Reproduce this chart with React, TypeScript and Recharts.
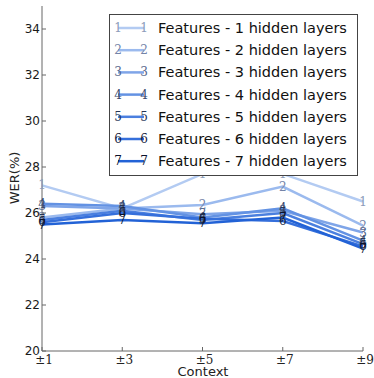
import React from 'react';
import { LineChart, Line, XAxis, YAxis, Label } from 'recharts';

const contexts = [1, 3, 5, 7, 9];
const yTicks = [20, 22, 24, 26, 28, 30, 32, 34];
const seriesNames = [
  'Features - 1 hidden layers',
  'Features - 2 hidden layers',
  'Features - 3 hidden layers',
  'Features - 4 hidden layers',
  'Features - 5 hidden layers',
  'Features - 6 hidden layers',
  'Features - 7 hidden layers',
];
const s1 = [27.2, 26.2, 27.7, 27.7, 26.5];
const s2 = [25.8, 26.2, 26.35, 27.15, 25.45];
const s3 = [26.3, 26.2, 25.95, 26.1, 25.15];
const s4 = [26.4, 26.3, 25.8, 26.2, 24.8];
const s5 = [25.7, 26.1, 25.7, 26.0, 24.65];
const s6 = [25.6, 26.0, 25.75, 25.65, 24.55];
const s7 = [25.5, 25.7, 25.55, 25.8, 24.45];
const allSeries = [s1, s2, s3, s4, s5, s6, s7];

const lineColors = ['#b3cbf2', '#9bbaee', '#7fa5e8', '#6392e3', '#4a7fdf', '#356fdb', '#2262d6'];
const markColors = ['#8c9cba', '#7484a8', '#56668a', '#3a4a6c', '#243454', '#16223e', '#0a122c'];

const data = contexts.map((c, i) => {
  const row: any = { ctx: c };
  allSeries.forEach((s, k) => { row['s' + (k + 1)] = s[i]; });
  return row;
});

const SANS = '"DejaVu Sans", sans-serif';
const SERIF = '"DejaVu Serif", serif';

const makeDot = (k: number) => (props: any) => {
  const { cx, cy, index } = props;
  if (cx == null || cy == null) return <g key={index} />;
  return (
    <text key={`d${k}-${index}`} x={cx} y={cy} textAnchor="middle" dominantBaseline="central"
      fontFamily={SERIF} fontSize={12} fill={markColors[k]}>{k + 1}</text>
  );
};

const YTick = (props: any) => {
  const { x, y, payload } = props;
  return (
    <g>
      <line x1={x} x2={x + 4} y1={y} y2={y} stroke="#666" />
      <text x={x - 2} y={y} textAnchor="end" dominantBaseline="central" fontFamily={SANS}
        fontSize={12} fill="#1a1a1a">{payload.value}</text>
    </g>
  );
};

const XTick = (props: any) => {
  const { x, y, payload } = props;
  return (
    <g>
      <line x1={x} x2={x} y1={y} y2={y - 4} stroke="#666" />
      <text x={x + 2} y={y + 9} textAnchor="middle" dominantBaseline="central" fontFamily={SERIF}
        fontSize={12} fill="#222">{'\u00b1' + payload.value}</text>
    </g>
  );
};

const LegendBox = () => (
  <svg width={250} height={163} style={{ position: 'absolute', left: 108.5, top: 13.5 }}>
    <rect x={0.5} y={0.5} width={248} height={161} fill="#fff" stroke="#444" />
    {seriesNames.map((name, k) => {
      const cy = 14 + k * 22.2;
      return (
        <g key={name}>
          <line x1={9} x2={35} y1={cy} y2={cy} stroke={lineColors[k]} strokeWidth={2.5} />
          <text x={9} y={cy} textAnchor="middle" dominantBaseline="central" fontFamily={SERIF}
            fontSize={12} fill={markColors[k]}>{k + 1}</text>
          <text x={35} y={cy} textAnchor="middle" dominantBaseline="central" fontFamily={SERIF}
            fontSize={12} fill={markColors[k]}>{k + 1}</text>
          <text x={49} y={cy} dominantBaseline="central" fontFamily={SANS} fontSize={14.5}
            fill="#111">{name}</text>
        </g>
      );
    })}
  </svg>
);

export default function App() {
  return (
    <div style={{ position: 'absolute', left: 0, top: 0, width: 374, height: 378, background: '#fff' }}>
      <LineChart width={374} height={378} data={data} margin={{ top: 6, right: 11, bottom: 0, left: 0 }}>
        <XAxis dataKey="ctx" type="number" domain={[1, 9]} ticks={contexts} tickSize={0} tickMargin={0}
          tickLine={false} axisLine={{ stroke: '#666' }} tick={<XTick />} height={27} interval={0}>
          <Label content={() => (
            <text x={203} y={371} textAnchor="middle" dominantBaseline="central" fontFamily={SANS}
              fontSize={13} fill="#222">Context</text>
          )} />
        </XAxis>
        <YAxis type="number" domain={[20, 35]} ticks={yTicks} tickSize={0} tickMargin={0}
          tickLine={false} axisLine={{ stroke: '#666' }} tick={<YTick />} width={42} interval={0}>
          <Label content={() => (
            <text x={14} y={178} transform="rotate(-90 14 178)" textAnchor="middle"
              dominantBaseline="central" fontFamily={SANS} fontSize={13} fill="#222">WER(%)</text>
          )} />
        </YAxis>
        {allSeries.map((_, k) => (
          <Line key={k} dataKey={'s' + (k + 1)} stroke={lineColors[k]} strokeWidth={2.5}
            isAnimationActive={false} dot={makeDot(k)} activeDot={false} type="linear" />
        ))}
      </LineChart>
      <LegendBox />
    </div>
  );
}
